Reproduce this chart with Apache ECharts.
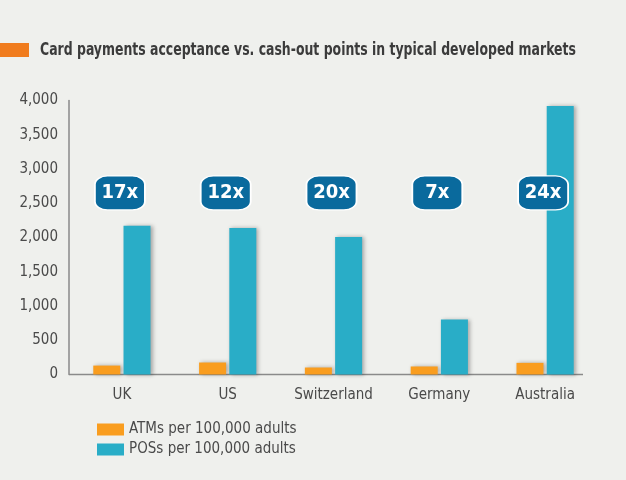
<!DOCTYPE html>
<html>
<head>
<meta charset="utf-8">
<script src="https://cdn.jsdelivr.net/npm/echarts@6/dist/echarts.min.js"></script>
<style>
html,body{margin:0;padding:0;background:#eff0ed;}
#c{width:626px;height:480px;}
</style>
</head>
<body>
<div id="c"></div>
<script>
const categories = ['UK', 'US', 'Switzerland', 'Germany', 'Australia'];
const atms = [130, 175, 102, 117, 170];
const poss = [2172, 2138, 2007, 802, 3921];
const ratioLabels = ['17x', '12x', '20x', '7x', '24x'];
const yTicks = [0, 500, 1000, 1500, 2000, 2500, 3000, 3500, 4000];
const BADGE_LEVEL = 2650;

const FONT = '"DejaVu Sans Condensed", "Liberation Sans Narrow", sans-serif';
const chart = echarts.init(document.getElementById('c'));
const shadow = { shadowColor: 'rgba(0,0,0,0.3)', shadowBlur: 4, shadowOffsetX: 2, shadowOffsetY: 0 };

chart.setOption({
  backgroundColor: '#eff0ed',
  animation: false,
  graphic: [
    { type: 'rect', left: 0, top: 43, shape: { width: 29, height: 14 }, style: { fill: '#f07c1e' } },
    { type: 'text', x: 40, y: 42, scaleX: 0.815, style: { text: 'Card payments acceptance vs. cash-out points in typical developed markets', font: 'bold 17px ' + FONT, fill: '#3b3b3b' } },
    { type: 'line', shape: { x1: 69, y1: 374.5, x2: 583, y2: 374.5 }, style: { stroke: '#8a8a8a', lineWidth: 1.5 } }
  ],
  legend: {
    orient: 'vertical', left: 92, top: 417, itemWidth: 27, itemHeight: 12, itemGap: 5,
    data: ['ATMs per 100,000 adults', 'POSs per 100,000 adults'],
    textStyle: { fontFamily: FONT, fontSize: 15, color: '#4a4a4a' },
    icon: 'rect'
  },
  grid: { left: 69, right: 28, top: 100.5, bottom: 105.5 },
  xAxis: {
    type: 'category', data: categories,
    axisLine: { show: false }, axisTick: { show: false },
    axisLabel: { interval: 0, fontFamily: FONT, fontSize: 15, color: '#4a4a4a', margin: 13 }
  },
  yAxis: {
    type: 'value', min: 0, max: 4000, interval: 500,
    axisLine: { show: true, lineStyle: { color: '#8a8a8a', width: 1.5 } },
    axisTick: { show: false }, splitLine: { show: false },
    axisLabel: { fontFamily: FONT, fontSize: 15, color: '#4a4a4a', margin: 11,
      formatter: v => yTicks.includes(v) ? v.toLocaleString('en-US') : '' }
  },
  series: [
    { name: 'ATMs per 100,000 adults', type: 'bar', data: atms, barWidth: 27, barGap: '12%',
      itemStyle: Object.assign({ color: '#f99d1f' }, shadow) },
    { name: 'POSs per 100,000 adults', type: 'bar', data: poss, barWidth: 27,
      itemStyle: Object.assign({ color: '#29adc7' }, shadow) },
    { name: 'ratio', type: 'scatter', data: ratioLabels.map(() => BADGE_LEVEL),
      symbol: 'roundRect', symbolSize: [50, 34], symbolOffset: [-2, 0], z: 5,
      itemStyle: { color: '#0a6a9d', opacity: 1, borderColor: '#ffffff', borderWidth: 1.5 },
      emphasis: { disabled: true },
      label: { show: true, position: 'inside', formatter: p => ratioLabels[p.dataIndex],
        fontFamily: FONT, fontWeight: 'bold', fontSize: 20, color: '#ffffff' } }
  ]
});
</script>
</body>
</html>
